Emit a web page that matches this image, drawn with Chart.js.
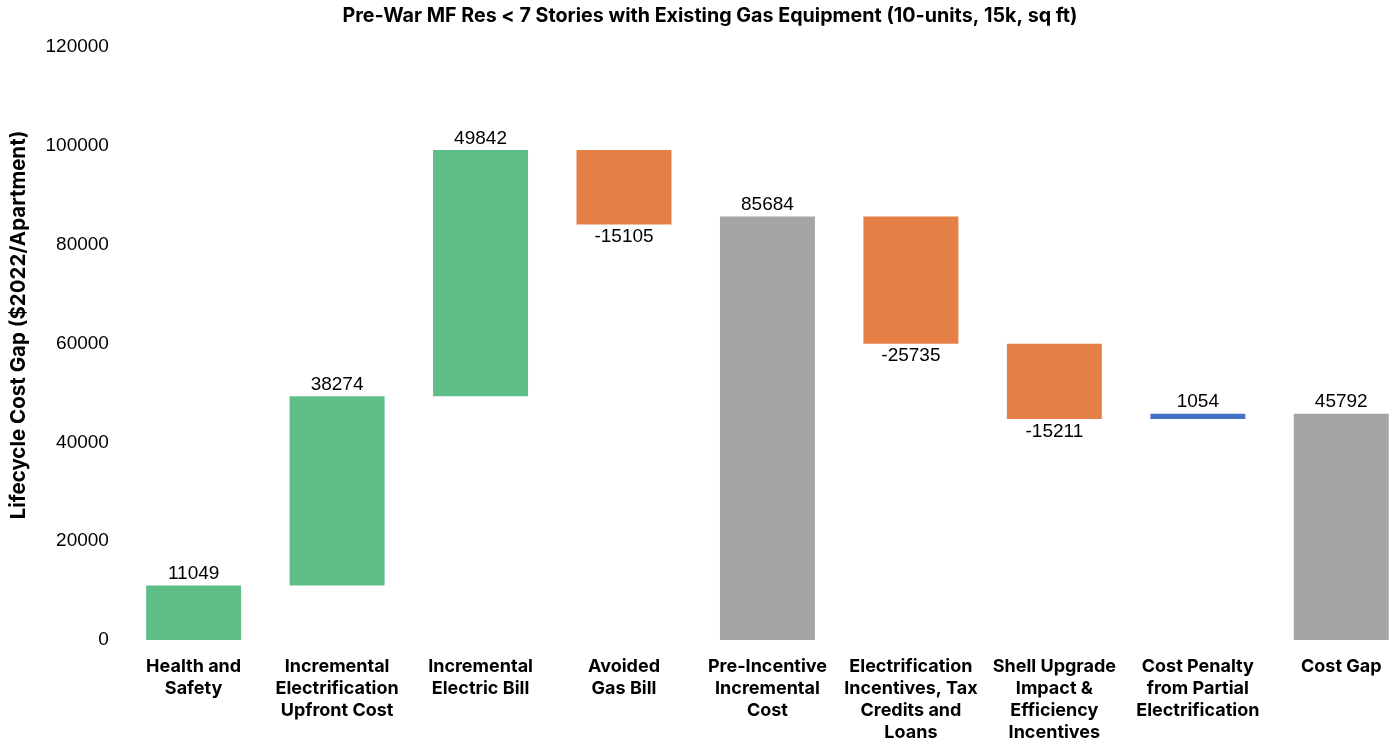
<!DOCTYPE html>
<html>
<head>
<meta charset="utf-8">
<script src="https://cdn.jsdelivr.net/npm/chart.js@4.4.1/dist/chart.umd.min.js"></script>
<style>
  html, body { margin: 0; padding: 0; background: #fff; overflow: hidden; }
  #wrap { position: relative; width: 1416px; height: 744px; }
</style>
</head>
<body>
<div id="wrap"><canvas id="c"></canvas></div>
<script>
// ---- data ----
const categories = [
  ["Health and", "Safety"],
  ["Incremental", "Electrification", "Upfront Cost"],
  ["Incremental", "Electric Bill"],
  ["Avoided", "Gas Bill"],
  ["Pre-Incentive", "Incremental", "Cost"],
  ["Electrification", "Incentives, Tax", "Credits and", "Loans"],
  ["Shell Upgrade", "Impact &", "Efficiency", "Incentives"],
  ["Cost Penalty", "from Partial", "Electrification"],
  ["Cost Gap"]
];
const values = [11049, 38274, 49842, -15105, 85684, -25735, -15211, 1054, 45792];
const kinds = ["up", "up", "up", "down", "total", "down", "down", "penalty", "total"];
const titleText = "Pre-War MF Res < 7 Stories with Existing Gas Equipment (10-units, 15k, sq ft)";
const yTitle = "Lifecycle Cost Gap ($2022/Apartment)";
const yTicks = [0, 20000, 40000, 60000, 80000, 100000, 120000];

const kindColors = { up: "#5FBE87", down: "#E47F45", total: "#A5A5A5", penalty: "#4472C4" };
const BOLD = "Inter, sans-serif";

// build floating bars from running total
let running = 0;
const floating = values.map((v, i) => {
  if (kinds[i] === "total") { running = v; return [0, v]; }
  const start = running; running += v; return [start, running];
});

const labelPlugin = {
  id: "vlabels",
  afterDatasetsDraw(chart) {
    const ctx = chart.ctx;
    const meta = chart.getDatasetMeta(0);
    const ys = chart.scales.y;
    ctx.save();
    ctx.font = "19px 'Liberation Sans', Arial, sans-serif";
    ctx.fillStyle = "#000";
    ctx.textAlign = "center";
    meta.data.forEach((bar, i) => {
      const v = values[i];
      const [a, b] = floating[i];
      if (v >= 0) {
        ctx.textBaseline = "bottom";
        ctx.fillText(String(v), bar.x, ys.getPixelForValue(Math.max(a, b)) - 2);
      } else {
        ctx.textBaseline = "top";
        ctx.fillText(String(v), bar.x, ys.getPixelForValue(Math.min(a, b)) + 3);
      }
    });
    ctx.restore();
  }
};

const titlePlugin = {
  id: "ctitle",
  afterDraw(chart) {
    const ctx = chart.ctx;
    ctx.save();
    ctx.font = "bold 19.7px " + BOLD;
    ctx.fillStyle = "#000";
    ctx.textAlign = "center";
    ctx.textBaseline = "middle";
    ctx.fillText(titleText, 710, 16);
    // rotated y-axis title
    ctx.font = "bold 20.5px " + BOLD;
    ctx.translate(19, 325);
    ctx.rotate(-Math.PI / 2);
    ctx.fillText(yTitle, 0, 0);
    ctx.restore();
  }
};

new Chart(document.getElementById("c"), {
  type: "bar",
  data: {
    labels: categories,
    datasets: [{
      data: floating,
      backgroundColor: kinds.map(k => kindColors[k]),
      borderWidth: 0,
      barPercentage: 0.662,
      categoryPercentage: 1.0
    }]
  },
  options: {
    responsive: true,
    maintainAspectRatio: false,
    animation: false,
    layout: { padding: { top: 47, right: 3, left: 32.5, bottom: -16 } },
    plugins: { legend: { display: false }, tooltip: { enabled: false }, title: { display: false } },
    scales: {
      x: {
        grid: { display: false, drawTicks: false },
        border: { display: false },
        ticks: {
          color: "#000",
          font: { family: BOLD, weight: "bold", size: 18, lineHeight: 22 / 18 },
          padding: 16,
          maxRotation: 0,
          autoSkip: false
        }
      },
      y: {
        min: 0, max: 120000,
        afterBuildTicks(s) { s.ticks = yTicks.map(v => ({ value: v })); },
        grid: { display: false, drawTicks: false },
        border: { display: false },
        ticks: {
          color: "#000",
          font: { family: "'Liberation Sans', Arial, sans-serif", size: 19 },
          padding: 13,
          callback: v => String(v)
        },
        title: { display: false }
      }
    }
  },
  plugins: [labelPlugin, titlePlugin]
});
</script>
</body>
</html>
